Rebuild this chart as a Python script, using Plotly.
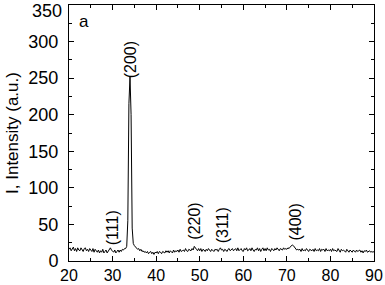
import numpy as np
import plotly.graph_objects as go

# 2-theta grid (degrees), 0.25 deg step
two_theta = np.round(np.arange(20.0, 90.001, 0.25), 2)

# Intensity (a.u.), one row per 5 degrees
intensity = [
    16, 18, 14, 17, 19, 14, 17, 13, 18, 15, 14, 18, 16, 13, 17, 18, 14, 16, 13, 17,   # 20-24.75
    15, 13, 17, 12, 16, 14, 12, 15, 11, 14, 12, 16, 11, 13, 15, 11, 13, 15, 18, 15,   # 25-29.75
    13, 12, 15, 11, 13, 15, 12, 15, 13, 16, 15, 17, 17, 20, 55, 215, 252, 200, 45, 24,  # 30-34.75
    21, 19, 18, 16, 17, 14, 16, 13, 14, 12, 13, 11, 13, 10, 12, 13, 10, 12, 9, 12,    # 35-39.75
    11, 13, 10, 13, 12, 10, 13, 12, 11, 14, 12, 14, 11, 14, 13, 11, 15, 12, 14, 13,   # 40-44.75
    15, 12, 16, 13, 14, 15, 13, 17, 14, 13, 16, 15, 14, 17, 15, 20, 17, 16, 14, 17,   # 45-49.75
    14, 17, 13, 16, 15, 13, 16, 14, 17, 14, 13, 16, 15, 13, 16, 15, 16, 13, 16, 18,   # 50-54.75
    15, 16, 13, 16, 15, 13, 16, 17, 14, 15, 17, 14, 15, 17, 14, 18, 14, 15, 17, 14,   # 55-59.75
    13, 17, 15, 18, 14, 15, 17, 14, 18, 15, 13, 16, 15, 18, 14, 17, 13, 16, 18, 14,   # 60-64.75
    17, 14, 18, 15, 16, 13, 17, 16, 14, 17, 15, 18, 15, 14, 17, 16, 15, 18, 16, 17,   # 65-69.75
    16, 18, 17, 19, 21, 22, 21, 19, 17, 15, 16, 15, 16, 13, 17, 14, 15, 14, 17, 15,   # 70-74.75
    13, 16, 15, 14, 16, 13, 17, 14, 15, 14, 17, 13, 16, 15, 16, 13, 17, 14, 15, 14,   # 75-79.75
    16, 13, 17, 14, 15, 14, 13, 17, 14, 12, 16, 14, 15, 13, 12, 16, 14, 12, 15, 13,   # 80-84.75
    12, 15, 14, 12, 15, 13, 14, 15, 12, 14, 11, 14, 13, 15, 12, 13, 14, 12, 13, 12,   # 85-89.75
    13,                                                                               # 90
]

# Peak (hkl) labels
peak_labels = ["(111)", "(200)", "(220)", "(311)", "(400)"]
peak_x = [29.9, 34.1, 48.9, 55.3, 72.1]
peak_y = [45, 275, 55, 48.5, 52.6]

Y_MAX = 350

FONT = "Liberation Sans, Arial, sans-serif"

fig = go.Figure()
fig.add_trace(go.Scatter(
    x=two_theta, y=intensity, mode="lines",
    line=dict(color="black", width=1), showlegend=False,
))

for lab, px, py in zip(peak_labels, peak_x, peak_y):
    fig.add_annotation(x=px, y=py, xref="x", yref="y", text=lab, textangle=-90,
                       showarrow=False, font=dict(family=FONT, size=16, color="black"),
                       xanchor="center", yanchor="middle")

fig.add_annotation(x=0.026, y=0.934, xref="paper", yref="paper", text="a",
                   showarrow=False, font=dict(family=FONT, size=17, color="black"),
                   xanchor="left", yanchor="middle")

fig.add_annotation(x=-0.187, y=0.5, xref="paper", yref="paper", text="I, Intensity (a.u.)",
                   textangle=-90, showarrow=False,
                   font=dict(family=FONT, size=17, color="black"),
                   xanchor="center", yanchor="middle")

# top y tick label, kept fully inside the page
fig.add_annotation(x=0, y=1, xref="paper", yref="paper", text=str(Y_MAX),
                   showarrow=False, font=dict(family=FONT, size=18, color="black"),
                   xanchor="right", yanchor="top", xshift=-6, yshift=5, borderpad=0)

axis_common = dict(showline=True, linecolor="black", linewidth=1, mirror="ticks",
                   ticks="inside", ticklen=5, tickwidth=1, tickcolor="black",
                   showgrid=False, zeroline=False, automargin=False,
                   ticklabeloverflow="allow")

fig.update_xaxes(range=[20, 90], dtick=10, tick0=20,
                 minor=dict(dtick=5, ticks="inside", ticklen=3, tickcolor="black"),
                 tickfont=dict(family=FONT, size=16, color="black"),
                 ticklabelstandoff=0,
                 **axis_common)
fig.update_yaxes(range=[0, Y_MAX], dtick=50, tick0=0,
                 minor=dict(dtick=25, ticks="inside", ticklen=3, tickcolor="black"),
                 tickfont=dict(family=FONT, size=18, color="black"),
                 ticklabelstandoff=6, labelalias={str(Y_MAX): ""},
                 **axis_common)

fig.update_layout(
    template="none",
    width=385, height=285,
    margin=dict(l=69, r=11, t=5, b=24, autoexpand=False),
    paper_bgcolor="white", plot_bgcolor="white",
    font=dict(family=FONT, color="black"),
)

fig.write_html("out.html", config={"displayModeBar": False},
               post_script="document.body.style.margin='0';document.body.style.overflow='hidden';")
